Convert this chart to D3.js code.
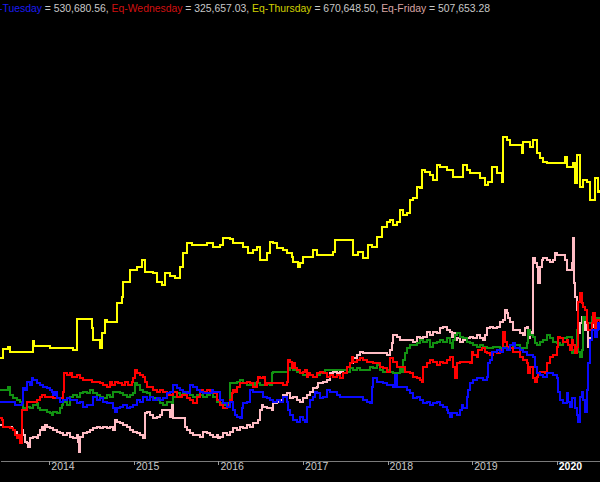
<!DOCTYPE html>
<html>
<head>
<meta charset="utf-8">
<script src="https://cdn.jsdelivr.net/npm/d3@7/dist/d3.min.js"></script>
<style>
  html, body { margin: 0; padding: 0; background: #000; }
  svg { display: block; }
</style>
</head>
<body>
<div id="chart"></div>
<script>
// ---- data: [decimal year, equity (thousands)] ----
const yearTicks = [2014, 2015, 2016, 2017, 2018, 2019, 2020];

const titleParts = [
  { text: "-Tuesday", color: "#1c1cf0" },
  { text: " = 530,680.56, ", color: "#c8c8c8" },
  { text: "Eq-Wednesday", color: "#d01010" },
  { text: " = 325,657.03, ", color: "#c8c8c8" },
  { text: "Eq-Thursday", color: "#d0d000" },
  { text: " = 670,648.50, ", color: "#c8c8c8" },
  { text: "Eq-Friday", color: "#d8a4a4" },
  { text: " = 507,653.28", color: "#c8c8c8" }
];

const monday = [[2013.417,470],[2013.512,473],[2013.535,465],[2013.571,462],[2013.618,460],[2013.653,458],[2013.689,452],[2013.736,453],[2013.772,452],[2013.807,455],[2013.854,457],[2013.866,452],[2013.890,450],[2013.973,448],[2014.008,447],[2014.032,445],[2014.043,448],[2014.091,447],[2014.126,452],[2014.150,455],[2014.162,458],[2014.209,455],[2014.245,463],[2014.280,465],[2014.327,463],[2014.363,467],[2014.398,468],[2014.445,467],[2014.481,470],[2014.516,467],[2014.564,465],[2014.599,463],[2014.635,462],[2014.682,465],[2014.718,463],[2014.753,468],[2014.836,467],[2014.871,465],[2014.918,463],[2014.954,465],[2014.989,467],[2015.013,477],[2015.036,475],[2015.072,470],[2015.107,468],[2015.155,467],[2015.190,463],[2015.225,462],[2015.273,460],[2015.309,457],[2015.344,455],[2015.391,458],[2015.450,457],[2015.462,463],[2015.509,467],[2015.545,465],[2015.580,467],[2015.627,468],[2015.663,465],[2015.698,463],[2015.746,465],[2015.817,463],[2015.864,465],[2015.900,467],[2015.935,463],[2015.982,458],[2016.018,457],[2016.053,455],[2016.100,457],[2016.136,477],[2016.219,478],[2016.255,480],[2016.290,477],[2016.337,475],[2016.431,477],[2016.491,475],[2016.550,476],[2016.609,475],[2016.632,487],[2016.644,488],[2016.822,490],[2016.846,492],[2016.881,490],[2016.928,488],[2016.964,487],[2016.999,485],[2017.117,483],[2017.164,485],[2017.200,487],[2017.235,488],[2017.259,490],[2017.519,488],[2017.555,492],[2017.590,490],[2017.637,492],[2017.673,490],[2017.792,493],[2017.827,492],[2017.874,495],[2017.910,490],[2017.945,488],[2017.992,490],[2018.028,488],[2018.063,487],[2018.146,493],[2018.169,488],[2018.181,500],[2018.205,507],[2018.228,512],[2018.264,515],[2018.347,517],[2018.383,520],[2018.418,518],[2018.465,520],[2018.501,513],[2018.536,517],[2018.583,518],[2018.619,520],[2018.654,518],[2018.702,522],[2018.737,517],[2018.761,512],[2018.773,520],[2018.796,525],[2018.820,527],[2018.856,523],[2018.891,522],[2018.938,518],[2018.974,517],[2019.009,515],[2019.057,513],[2019.092,515],[2019.128,513],[2019.175,512],[2019.246,513],[2019.329,512],[2019.364,513],[2019.411,512],[2019.482,515],[2019.565,512],[2019.648,517],[2019.659,530],[2019.683,525],[2019.718,523],[2019.742,517],[2019.766,515],[2019.801,518],[2019.837,520],[2019.884,525],[2019.920,522],[2019.955,518],[2020.002,517],[2020.038,515],[2020.073,522],[2020.121,523],[2020.180,507],[2020.192,510],[2020.215,512],[2020.239,530],[2020.251,508],[2020.274,503],[2020.298,510],[2020.310,543],[2020.333,540],[2020.357,537],[2020.393,537],[2020.416,543],[2020.428,540],[2020.475,542],[2020.511,540]];

const tuesday = [[2013.417,458],[2013.594,455],[2013.677,457],[2013.689,472],[2013.713,470],[2013.736,478],[2013.772,475],[2013.795,482],[2013.807,480],[2013.854,477],[2013.890,475],[2013.925,473],[2013.973,472],[2014.008,470],[2014.032,468],[2014.043,465],[2014.067,468],[2014.091,462],[2014.126,458],[2014.162,460],[2014.209,462],[2014.245,460],[2014.327,457],[2014.363,458],[2014.398,453],[2014.445,455],[2014.516,463],[2014.564,460],[2014.599,462],[2014.635,458],[2014.682,457],[2014.753,452],[2014.776,448],[2014.800,452],[2014.836,453],[2014.871,455],[2014.918,452],[2014.954,453],[2014.989,455],[2015.036,460],[2015.072,458],[2015.107,463],[2015.155,460],[2015.190,463],[2015.225,460],[2015.273,462],[2015.309,460],[2015.344,462],[2015.391,467],[2015.427,468],[2015.462,475],[2015.509,472],[2015.545,470],[2015.580,468],[2015.627,467],[2015.663,475],[2015.698,473],[2015.746,470],[2015.782,468],[2015.817,467],[2015.923,470],[2015.935,468],[2016.018,460],[2016.053,457],[2016.100,453],[2016.136,458],[2016.171,450],[2016.195,445],[2016.219,443],[2016.255,442],[2016.278,452],[2016.290,457],[2016.337,458],[2016.373,470],[2016.408,468],[2016.526,463],[2016.573,462],[2016.609,460],[2016.644,458],[2016.691,460],[2016.727,458],[2016.762,463],[2016.810,458],[2016.822,450],[2016.846,445],[2016.881,440],[2016.928,438],[2016.964,443],[2016.999,440],[2017.023,438],[2017.046,453],[2017.082,460],[2017.117,463],[2017.141,468],[2017.164,467],[2017.200,462],[2017.235,463],[2017.282,470],[2017.319,468],[2017.401,465],[2017.437,463],[2017.708,460],[2017.756,458],[2017.792,457],[2017.815,473],[2017.827,482],[2017.874,478],[2017.945,477],[2017.992,475],[2018.063,473],[2018.086,485],[2018.110,473],[2018.181,473],[2018.228,470],[2018.264,467],[2018.300,462],[2018.347,463],[2018.383,460],[2018.418,457],[2018.465,458],[2018.501,455],[2018.536,457],[2018.583,458],[2018.619,455],[2018.654,453],[2018.702,450],[2018.713,447],[2018.737,443],[2018.761,447],[2018.820,445],[2018.856,450],[2018.879,455],[2018.891,452],[2018.938,463],[2018.950,470],[2018.974,477],[2019.009,480],[2019.057,482],[2019.128,480],[2019.175,483],[2019.187,497],[2019.210,500],[2019.234,508],[2019.293,510],[2019.329,508],[2019.364,512],[2019.411,510],[2019.447,515],[2019.482,517],[2019.506,512],[2019.565,510],[2019.600,508],[2019.648,505],[2019.718,503],[2019.742,493],[2019.766,487],[2019.801,485],[2019.837,483],[2019.884,487],[2019.955,485],[2020.002,482],[2020.014,468],[2020.038,460],[2020.073,457],[2020.121,467],[2020.133,458],[2020.156,453],[2020.180,462],[2020.215,452],[2020.239,445],[2020.251,438],[2020.274,463],[2020.298,468],[2020.310,460],[2020.333,448],[2020.357,470],[2020.369,497],[2020.393,520],[2020.416,530],[2020.452,523],[2020.475,530],[2020.487,537],[2020.511,530]];

const wednesday = [[2013.417,442],[2013.441,440],[2013.452,433],[2013.535,432],[2013.571,430],[2013.594,425],[2013.618,422],[2013.630,425],[2013.653,417],[2013.677,450],[2013.736,458],[2013.854,460],[2013.890,463],[2013.913,465],[2013.949,463],[2014.043,462],[2014.162,468],[2014.174,487],[2014.209,485],[2014.245,487],[2014.268,483],[2014.327,485],[2014.363,482],[2014.398,480],[2014.504,478],[2014.599,477],[2014.635,475],[2014.682,473],[2014.718,478],[2014.741,475],[2014.776,478],[2014.812,477],[2014.859,475],[2014.895,478],[2014.930,475],[2014.977,478],[2014.989,482],[2015.013,490],[2015.036,487],[2015.072,485],[2015.107,483],[2015.131,478],[2015.155,473],[2015.225,470],[2015.273,468],[2015.309,470],[2015.344,468],[2015.391,467],[2015.403,465],[2015.462,468],[2015.509,463],[2015.568,465],[2015.627,462],[2015.663,460],[2015.698,457],[2015.746,463],[2015.782,470],[2015.817,468],[2015.864,470],[2015.900,468],[2015.935,467],[2015.982,460],[2016.018,455],[2016.053,452],[2016.100,455],[2016.136,460],[2016.159,467],[2016.171,470],[2016.195,468],[2016.219,473],[2016.255,477],[2016.337,478],[2016.373,477],[2016.408,473],[2016.455,478],[2016.467,483],[2016.491,482],[2016.526,483],[2016.550,475],[2016.573,477],[2016.762,475],[2016.810,478],[2016.822,500],[2016.846,498],[2016.869,492],[2016.881,497],[2016.904,492],[2016.928,490],[2016.964,487],[2016.999,488],[2017.023,490],[2017.046,483],[2017.058,487],[2017.082,485],[2017.117,483],[2017.164,487],[2017.200,488],[2017.235,487],[2017.282,483],[2017.319,485],[2017.353,483],[2017.401,485],[2017.437,482],[2017.472,487],[2017.519,493],[2017.555,497],[2017.578,503],[2017.590,498],[2017.637,500],[2017.673,502],[2017.708,500],[2017.756,498],[2017.827,497],[2017.910,493],[2017.945,492],[2017.992,488],[2018.028,502],[2018.063,498],[2018.110,493],[2018.205,488],[2018.264,487],[2018.300,483],[2018.347,482],[2018.383,480],[2018.406,478],[2018.418,493],[2018.465,497],[2018.501,500],[2018.536,498],[2018.583,495],[2018.619,498],[2018.654,497],[2018.702,500],[2018.737,503],[2018.773,493],[2018.796,482],[2018.820,497],[2018.856,498],[2018.974,497],[2018.997,508],[2019.009,505],[2019.057,503],[2019.069,510],[2019.116,512],[2019.152,508],[2019.175,507],[2019.210,505],[2019.246,508],[2019.293,507],[2019.329,510],[2019.364,528],[2019.388,518],[2019.411,513],[2019.447,512],[2019.482,508],[2019.565,503],[2019.600,500],[2019.648,497],[2019.659,487],[2019.683,493],[2019.718,482],[2019.742,478],[2019.766,483],[2019.778,487],[2019.801,488],[2019.861,487],[2019.884,497],[2019.920,503],[2019.955,505],[2020.002,513],[2020.014,523],[2020.038,522],[2020.073,518],[2020.121,520],[2020.133,515],[2020.156,510],[2020.180,520],[2020.192,515],[2020.215,507],[2020.239,513],[2020.251,558],[2020.274,567],[2020.298,557],[2020.310,553],[2020.333,550],[2020.357,537],[2020.369,530],[2020.416,537],[2020.428,547],[2020.452,532],[2020.475,540],[2020.511,537]];

const thursday = [[2013.417,502],[2013.452,511],[2013.512,513],[2013.535,508],[2013.807,519],[2013.819,514],[2014.008,512],[2014.280,510],[2014.327,541],[2014.504,532],[2014.516,520],[2014.599,512],[2014.623,527],[2014.658,540],[2014.682,538],[2014.800,557],[2014.859,563],[2014.871,578],[2014.954,590],[2015.036,593],[2015.095,600],[2015.131,588],[2015.225,587],[2015.273,578],[2015.332,575],[2015.367,587],[2015.427,584],[2015.486,582],[2015.545,593],[2015.580,607],[2015.627,617],[2015.686,615],[2015.864,617],[2015.935,613],[2016.018,615],[2016.053,622],[2016.136,621],[2016.171,617],[2016.289,613],[2016.348,607],[2016.408,610],[2016.455,613],[2016.491,600],[2016.573,607],[2016.609,618],[2016.644,617],[2016.691,612],[2016.762,610],[2016.810,607],[2016.869,603],[2016.881,598],[2016.940,593],[2016.964,597],[2016.999,603],[2017.117,610],[2017.164,605],[2017.353,608],[2017.377,620],[2017.590,605],[2017.649,608],[2017.708,602],[2017.767,615],[2017.814,613],[2017.873,623],[2017.932,633],[2017.991,638],[2018.028,640],[2018.063,635],[2018.110,638],[2018.146,650],[2018.181,645],[2018.228,647],[2018.264,660],[2018.300,662],[2018.347,673],[2018.383,672],[2018.406,690],[2018.442,688],[2018.501,685],[2018.536,680],[2018.583,695],[2018.619,693],[2018.700,690],[2018.771,683],[2018.891,695],[2018.938,690],[2018.974,687],[2019.092,682],[2019.150,675],[2019.185,678],[2019.233,693],[2019.292,687],[2019.351,678],[2019.362,723],[2019.410,720],[2019.447,715],[2019.589,707],[2019.601,718],[2019.683,713],[2019.717,720],[2019.764,707],[2019.801,702],[2019.837,698],[2019.884,697],[2020.095,703],[2020.119,693],[2020.190,697],[2020.214,677],[2020.238,705],[2020.274,673],[2020.309,680],[2020.356,678],[2020.393,660],[2020.452,682],[2020.487,668],[2020.511,670]];

const friday = [[2013.417,435],[2013.452,433],[2013.559,432],[2013.571,430],[2013.594,428],[2013.618,425],[2013.630,422],[2013.653,425],[2013.677,430],[2013.689,425],[2013.713,418],[2013.736,417],[2013.748,413],[2013.772,422],[2013.807,423],[2013.854,422],[2013.866,425],[2013.890,430],[2013.913,433],[2013.925,430],[2013.949,435],[2013.973,433],[2014.008,432],[2014.043,430],[2014.091,428],[2014.126,427],[2014.162,425],[2014.209,427],[2014.245,423],[2014.280,422],[2014.327,425],[2014.339,418],[2014.351,408],[2014.363,423],[2014.398,427],[2014.445,428],[2014.481,430],[2014.516,432],[2014.564,433],[2014.599,432],[2014.635,433],[2014.682,432],[2014.718,433],[2014.753,430],[2014.776,440],[2014.800,438],[2014.836,437],[2014.871,435],[2014.918,433],[2014.954,430],[2014.989,428],[2015.036,427],[2015.072,425],[2015.107,422],[2015.131,447],[2015.155,448],[2015.190,445],[2015.225,442],[2015.273,443],[2015.309,445],[2015.332,450],[2015.427,443],[2015.450,458],[2015.462,442],[2015.604,433],[2015.627,430],[2015.663,427],[2015.698,425],[2015.782,423],[2015.817,428],[2015.864,427],[2015.900,425],[2015.935,423],[2015.982,425],[2015.994,422],[2016.018,423],[2016.053,427],[2016.100,425],[2016.136,428],[2016.171,432],[2016.219,430],[2016.255,433],[2016.290,432],[2016.337,435],[2016.373,433],[2016.408,437],[2016.467,440],[2016.491,450],[2016.514,455],[2016.526,453],[2016.573,452],[2016.632,450],[2016.644,457],[2016.691,458],[2016.727,460],[2016.762,465],[2016.810,467],[2016.846,462],[2016.881,463],[2016.928,460],[2016.964,458],[2016.999,462],[2017.046,465],[2017.082,468],[2017.117,472],[2017.164,473],[2017.176,477],[2017.235,478],[2017.282,480],[2017.319,487],[2017.353,488],[2017.401,487],[2017.437,488],[2017.472,490],[2017.519,493],[2017.555,497],[2017.590,502],[2017.637,505],[2017.673,508],[2017.708,507],[2017.945,507],[2017.992,505],[2018.028,510],[2018.052,517],[2018.063,525],[2018.110,523],[2018.146,520],[2018.300,518],[2018.347,523],[2018.383,522],[2018.418,523],[2018.465,528],[2018.501,525],[2018.536,528],[2018.583,527],[2018.619,532],[2018.654,533],[2018.702,530],[2018.737,528],[2018.761,523],[2018.773,527],[2018.796,520],[2018.820,522],[2018.856,518],[2018.891,520],[2018.938,522],[2018.974,523],[2019.009,522],[2019.057,525],[2019.092,522],[2019.128,520],[2019.152,525],[2019.175,532],[2019.210,533],[2019.246,532],[2019.293,533],[2019.329,538],[2019.364,540],[2019.388,550],[2019.411,547],[2019.423,542],[2019.447,538],[2019.482,530],[2019.565,527],[2019.600,525],[2019.624,532],[2019.648,533],[2019.659,522],[2019.683,528],[2019.707,527],[2019.718,602],[2019.742,597],[2019.766,593],[2019.778,577],[2019.801,593],[2019.825,600],[2019.837,602],[2019.884,600],[2019.920,598],[2019.955,600],[2019.978,607],[2020.002,605],[2020.097,600],[2020.121,590],[2020.156,590],[2020.180,597],[2020.192,622],[2020.204,577],[2020.215,563],[2020.239,550],[2020.251,527],[2020.274,537],[2020.298,543],[2020.310,530],[2020.333,540],[2020.357,530],[2020.369,513],[2020.393,522],[2020.416,533],[2020.428,540],[2020.475,537],[2020.511,538]];

const seriesList = [
  { name: "Eq-Friday", data: friday, color: "#ffbcc4" },
  { name: "Eq-Monday", data: monday, color: "#129212" },
  { name: "Eq-Wednesday", data: wednesday, color: "#ff0000" },
  { name: "Eq-Tuesday", data: tuesday, color: "#0a0aff" },
  { name: "Eq-Thursday", data: thursday, color: "#ffff00" }
];

// ---- layout ----
const W = 600, H = 482;
const plotBottom = 461;

const svg = d3.select("#chart").append("svg")
  .attr("width", W).attr("height", H)
  .style("background", "#000");

const x = d3.scaleLinear().domain([2013.417, 2020.511]).range([0, W]);
const y = d3.scaleLinear().domain([399, 860]).range([plotBottom, 0]);

svg.append("defs").append("clipPath").attr("id", "plotclip")
  .append("rect").attr("x", 0).attr("y", 0).attr("width", W).attr("height", plotBottom);

const line = d3.line()
  .x(d => x(d[0]))
  .y(d => y(d[1]))
  .curve(d3.curveStepAfter);

const g = svg.append("g").attr("clip-path", "url(#plotclip)");
seriesList.forEach(s => {
  g.append("path")
    .datum(s.data)
    .attr("fill", "none")
    .attr("stroke", s.color)
    .attr("stroke-width", 2)
    .attr("shape-rendering", "crispEdges")
    .attr("d", line);
});

// ---- x axis ----
const axis = d3.axisBottom(x)
  .tickValues(yearTicks)
  .tickFormat(d3.format("d"))
  .tickSize(4)
  .tickSizeOuter(0);

const ax = svg.append("g")
  .attr("transform", `translate(0,${plotBottom})`)
  .call(axis);

ax.select(".domain").attr("stroke", "#7a7a7a").attr("shape-rendering", "crispEdges");
ax.selectAll(".tick line").attr("stroke", "#9a9a9a").attr("shape-rendering", "crispEdges");
ax.selectAll(".tick text")
  .attr("text-anchor", "start")
  .attr("x", 1.5)
  .attr("y", 2)
  .attr("dy", "0.71em")
  .attr("fill", d => d === 2020 ? "#ffffff" : "#c8c8c8")
  .style("font-weight", d => d === 2020 ? "bold" : "normal")
  .style("font-family", "Arial, 'Liberation Sans', sans-serif")
  .style("font-size", "10.5px");

// ---- title ----
const title = svg.append("text")
  .attr("x", -1)
  .attr("y", 12)
  .style("font-family", "Arial, 'Liberation Sans', sans-serif")
  .style("font-size", "10.4px")
  .attr("xml:space", "preserve");

titleParts.forEach(p => {
  title.append("tspan").attr("fill", p.color).text(p.text);
});
</script>
</body>
</html>
